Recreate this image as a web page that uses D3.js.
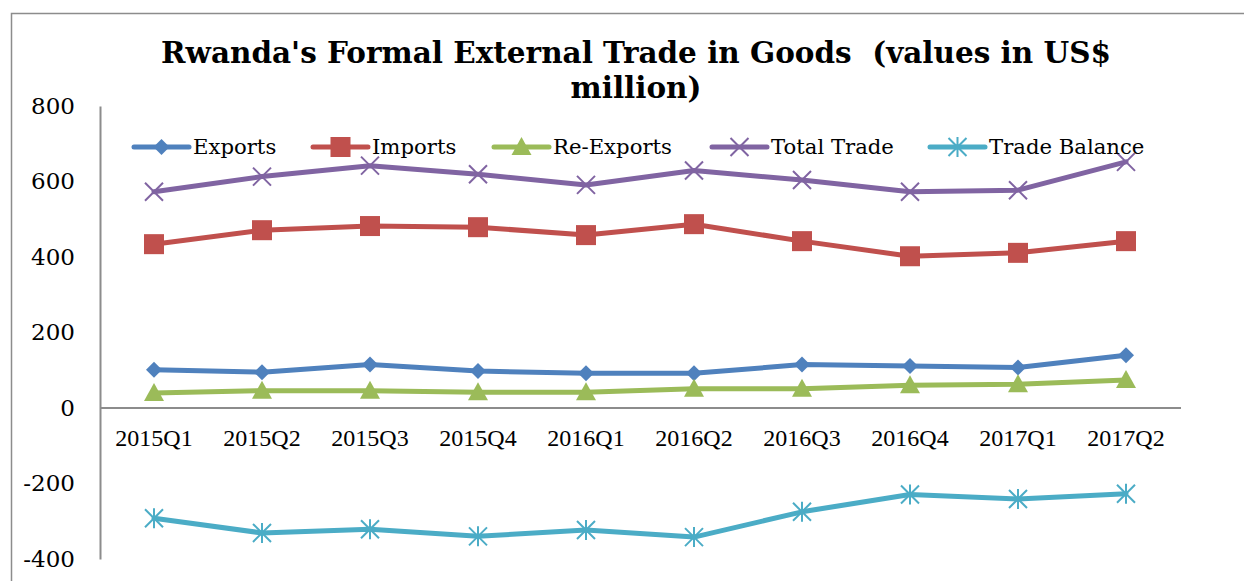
<!DOCTYPE html>
<html>
<head>
<meta charset="utf-8">
<script src="https://cdn.jsdelivr.net/npm/d3@7"></script>
<style>
  html, body { margin: 0; padding: 0; background: #fff; }
  svg { display: block; }
</style>
</head>
<body>
<svg id="chart" width="1244" height="581"></svg>
<script>
// Quarterly categories
const quarters = ["2015Q1","2015Q2","2015Q3","2015Q4","2016Q1","2016Q2","2016Q3","2016Q4","2017Q1","2017Q2"];

// Values in US$ million
const exportsVals     = [101, 95, 115, 98, 92, 92, 115, 111, 107, 140];
const importsVals     = [434, 471, 482, 479, 458, 487, 442, 402, 411, 442];
const reExportsVals   = [40, 46, 46, 42, 42, 51, 51, 60, 63, 74];
const totalTradeVals  = [573, 613, 642, 619, 591, 629, 604, 573, 577, 652];
const tradeBalanceVals= [-292, -331, -321, -340, -323, -342, -275, -229, -241, -227];

const yTicks = [-400, -200, 0, 200, 400, 600, 800];

const seriesNames = ["Exports", "Imports", "Re-Exports", "Total Trade", "Trade Balance"];

const series = [
  { name: seriesNames[0], values: exportsVals,      color: "#4F81BD", marker: "diamond" },
  { name: seriesNames[1], values: importsVals,      color: "#C0504D", marker: "square" },
  { name: seriesNames[2], values: reExportsVals,    color: "#9BBB59", marker: "triangle" },
  { name: seriesNames[3], values: totalTradeVals,   color: "#8064A2", marker: "x" },
  { name: seriesNames[4], values: tradeBalanceVals, color: "#4BACC6", marker: "star" }
];

const svg = d3.select("#chart");
const serif = "'DejaVu Serif', 'Liberation Serif', serif";

// Outer chart frame
svg.append("path")
  .attr("d", "M11.5,600 V13.5 H1260")
  .attr("fill", "none")
  .attr("stroke", "#8c8c8c")
  .attr("stroke-width", 1.5);

// Scales
const x = d3.scaleBand().domain(quarters).range([100, 1180]).padding(0);
const y = d3.scaleLinear().domain([-400, 800]).range([559, 106]);
const cx = d => x(d) + x.bandwidth() / 2;

// Title
const title = svg.append("text")
  .attr("text-anchor", "middle")
  .attr("font-family", serif)
  .attr("font-weight", "bold")
  .attr("font-size", 28)
  .attr("fill", "#000");
const l1 = title.append("tspan").attr("x", 636).attr("y", 63)
  .text("Rwanda's Formal External Trade in Goods\u00a0\u00a0(values in US$");
const l2 = title.append("tspan").attr("x", 636).attr("y", 98).text("million)");
// fit first line to its measured width
const w1 = l1.node().getComputedTextLength();
const fs = 28 * 950 / w1;
title.attr("font-size", fs);

// Y axis
const yAxis = svg.append("g").attr("transform", "translate(100,0)")
  .call(d3.axisLeft(y).tickValues(yTicks).tickSize(0).tickPadding(25).tickFormat(d => String(d)));
yAxis.select(".domain").attr("stroke", "#8c8c8c").attr("stroke-width", 2);
yAxis.selectAll("text")
  .attr("font-family", serif)
  .attr("font-size", 23)
  .attr("fill", "#000");

// Zero line with category labels below
svg.append("line")
  .attr("x1", 100).attr("x2", 1181)
  .attr("y1", y(0)).attr("y2", y(0))
  .attr("stroke", "#8c8c8c").attr("stroke-width", 2);

svg.append("g").selectAll("text")
  .data(quarters).join("text")
  .attr("x", d => cx(d))
  .attr("y", y(0) + 38)
  .attr("text-anchor", "middle")
  .attr("font-family", "'Liberation Serif', serif")
  .attr("font-size", 24)
  .attr("fill", "#000")
  .text(d => d);

// Marker shapes
function drawMarker(g, type, color) {
  if (type === "diamond") {
    g.append("path").attr("d", "M0,-8 L8,0 L0,8 L-8,0 Z").attr("fill", color);
  } else if (type === "square") {
    g.append("rect").attr("x", -10).attr("y", -10).attr("width", 20).attr("height", 20).attr("fill", color);
  } else if (type === "triangle") {
    g.append("path").attr("d", "M0,-10 L10,8 L-10,8 Z").attr("fill", color);
  } else if (type === "x") {
    g.append("path").attr("d", "M-9,-9 L9,9 M-9,9 L9,-9")
      .attr("stroke", color).attr("stroke-width", 2).attr("fill", "none");
  } else if (type === "star") {
    g.append("path").attr("d", "M-9,-9 L9,9 M-9,9 L9,-9 M0,-10 V10")
      .attr("stroke", color).attr("stroke-width", 2).attr("fill", "none");
  }
}

const line = d3.line().x((d, i) => cx(quarters[i])).y(d => y(d));

series.forEach(s => {
  const g = svg.append("g");
  g.append("path")
    .datum(s.values)
    .attr("d", line)
    .attr("fill", "none")
    .attr("stroke", s.color)
    .attr("stroke-width", 5)
    .attr("stroke-linejoin", "round")
    .attr("stroke-linecap", "round");
  s.values.forEach((v, i) => {
    const m = g.append("g").attr("transform", `translate(${cx(quarters[i])},${y(v)})`);
    drawMarker(m, s.marker, s.color);
  });
});

// Legend
const legendX = [134, 313, 494, 712, 930];
const legendY = 147;
series.forEach((s, i) => {
  const g = svg.append("g").attr("transform", `translate(${legendX[i]},${legendY})`);
  g.append("line").attr("x1", 0).attr("x2", 55).attr("y1", 0).attr("y2", 0)
    .attr("stroke", s.color).attr("stroke-width", 5).attr("stroke-linecap", "round");
  const m = g.append("g").attr("transform", "translate(27.5,0)");
  drawMarker(m, s.marker, s.color);
  g.append("text")
    .attr("x", 59).attr("y", 7)
    .attr("font-family", serif)
    .attr("font-size", 21.2)
    .attr("fill", "#000")
    .text(s.name);
});
</script>
</body>
</html>
